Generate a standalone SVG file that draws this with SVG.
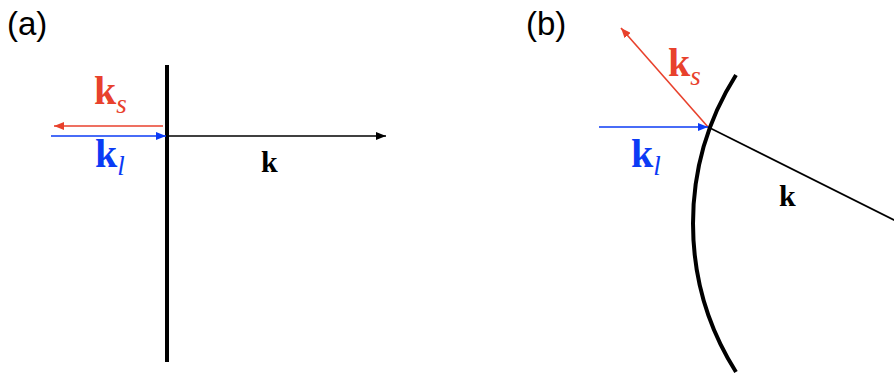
<svg xmlns="http://www.w3.org/2000/svg" width="894" height="376" viewBox="0 0 894 376">
<style>
.lbl{font-family:"Liberation Sans",Arial,sans-serif;font-size:33px;fill:#000}
.kb{font-family:"Liberation Serif","Times New Roman",serif;font-weight:bold;font-size:40px}
.kb2{font-family:"Liberation Serif","Times New Roman",serif;font-weight:bold;font-size:30px}
.sub{font-family:"Liberation Serif","Times New Roman",serif;font-style:italic;font-weight:normal;font-size:27px}
.red{fill:#E8412C}
.blue{fill:#0B3BF5}
.wall{stroke:#000;stroke-width:4;fill:none}
</style>
<defs>
<marker id="ar" viewBox="0 0 10 8" refX="10" refY="4" markerWidth="10" markerHeight="8" markerUnits="userSpaceOnUse" orient="auto"><path d="M0,0 L10,4 L0,8 z" fill="#E8412C"/></marker>
<marker id="ab" viewBox="0 0 10 8" refX="10" refY="4" markerWidth="10" markerHeight="8" markerUnits="userSpaceOnUse" orient="auto"><path d="M0,0 L10,4 L0,8 z" fill="#0B3BF5"/></marker>
<marker id="ak" viewBox="0 0 10 8" refX="10" refY="4" markerWidth="10" markerHeight="8" markerUnits="userSpaceOnUse" orient="auto"><path d="M0,0 L10,4 L0,8 z" fill="#000"/></marker>
</defs>
<rect width="894" height="376" fill="#fff"/>
<g id="panel-a-label"><text class="lbl" x="7" y="35">(a)</text></g>
<g id="panel-b-label"><text class="lbl" x="526" y="35">(b)</text></g>
<g id="wall-a"><line class="wall" x1="167" y1="65" x2="167" y2="362"/></g>
<g id="wall-b"><path class="wall" d="M736,75 A278,278 0 0 0 736,372"/></g>
<g id="connectors">
<line x1="163" y1="126" x2="54" y2="126" stroke="#E8412C" stroke-width="1.6" marker-end="url(#ar)"/>
<line x1="51" y1="136" x2="166" y2="136" stroke="#0B3BF5" stroke-width="1.6" marker-end="url(#ab)"/>
<line x1="167" y1="136" x2="386" y2="136" stroke="#000" stroke-width="1.6" marker-end="url(#ak)"/>
<line x1="708" y1="127" x2="621" y2="28" stroke="#E8412C" stroke-width="1.6" marker-end="url(#ar)"/>
<line x1="599" y1="127" x2="708" y2="127" stroke="#0B3BF5" stroke-width="1.6" marker-end="url(#ab)"/>
<line x1="708" y1="127" x2="900" y2="223" stroke="#000" stroke-width="1.6"/>
</g>
<g id="label-ks-a"><text class="kb red" x="94" y="104">k<tspan class="sub" dy="9">s</tspan></text></g>
<g id="label-kl-a"><text class="kb blue" x="95" y="167">k<tspan class="sub" dy="8">l</tspan></text></g>
<g id="label-k-a"><text class="kb2" x="261" y="172">k</text></g>
<g id="label-ks-b"><text class="kb red" x="668" y="76">k<tspan class="sub" dy="9">s</tspan></text></g>
<g id="label-kl-b"><text class="kb blue" x="631" y="167">k<tspan class="sub" dy="8">l</tspan></text></g>
<g id="label-k-b"><text class="kb2" x="779" y="206">k</text></g>
</svg>
